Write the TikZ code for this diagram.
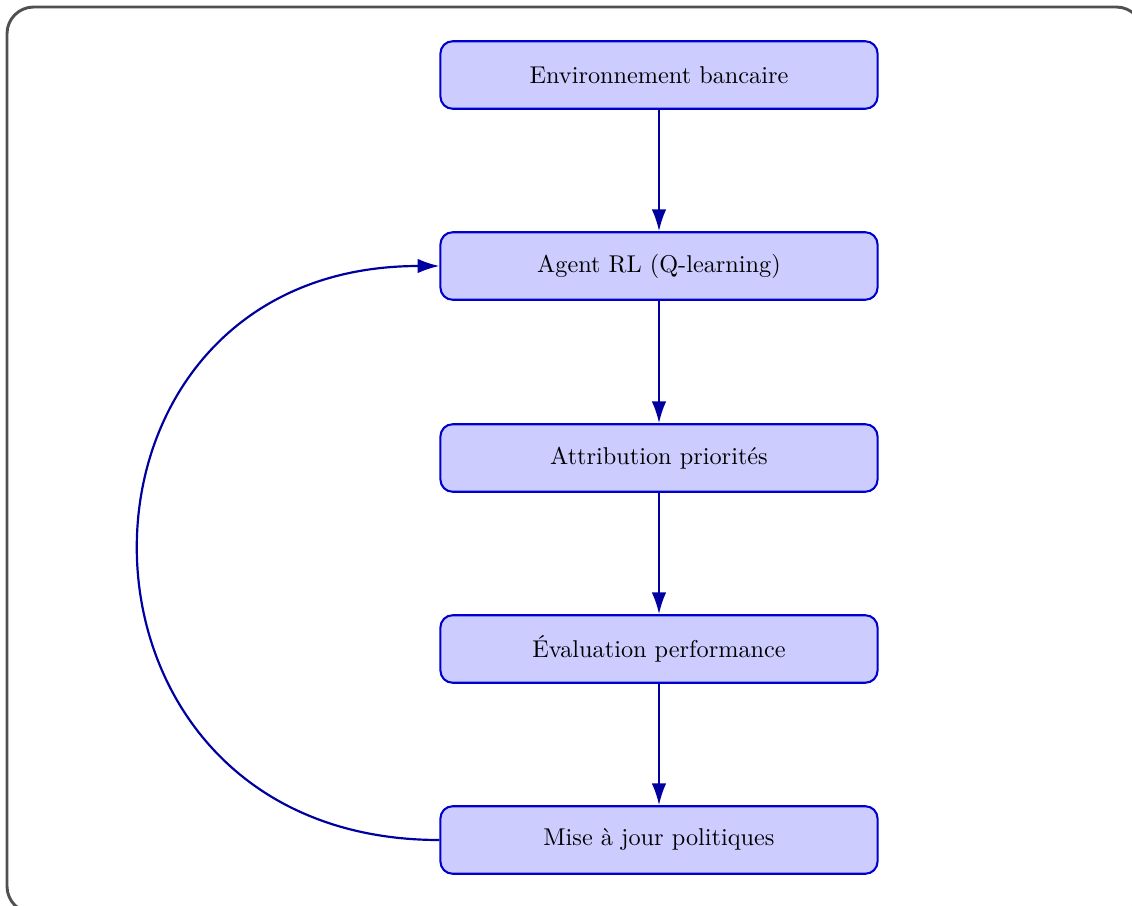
\documentclass[tikz,border=0pt]{standalone}
\usetikzlibrary{arrows.meta}
\definecolor{boxfill}{RGB}{204,204,255}
\definecolor{boxline}{RGB}{0,0,205}
\definecolor{flow}{RGB}{0,0,160}
\definecolor{frameline}{RGB}{80,80,80}
\begin{document}
\begin{tikzpicture}[x=0.4118pt,y=-0.4118pt,
  stage/.style={draw=boxline, fill=boxfill, line width=0.85pt, rounded corners=5pt,
    minimum width=180pt, minimum height=27.8pt, inner sep=0pt, font=\normalsize},
  flowarrow/.style={draw=flow, line width=0.9pt, -{Latex[length=9pt,width=6pt]}}]
  \useasboundingbox (0,0) rectangle (1132,906);
  % outer frame
  \draw[frameline, line width=1.2pt, rounded corners=11pt] (7,7) rectangle (1143,913);
  % stages
  \node[stage] (env)   at (659,75)  {Environnement bancaire};
  \node[stage] (agent) at (659,266) {Agent RL (Q-learning)};
  \node[stage] (attr)  at (659,458) {Attribution priorités};
  \node[stage] (eval)  at (659,649) {Évaluation performance};
  \node[stage] (maj)   at (659,840) {Mise à jour politiques};
  % forward flow
  \draw[flowarrow] (env) -- (agent);
  \draw[flowarrow] (agent) -- (attr);
  \draw[flowarrow] (attr) -- (eval);
  \draw[flowarrow] (eval) -- (maj);
  % feedback loop
  \draw[flowarrow] (maj.west) .. controls +(-400,0) and +(-400,0) .. (agent.west);
\end{tikzpicture}
\end{document}
